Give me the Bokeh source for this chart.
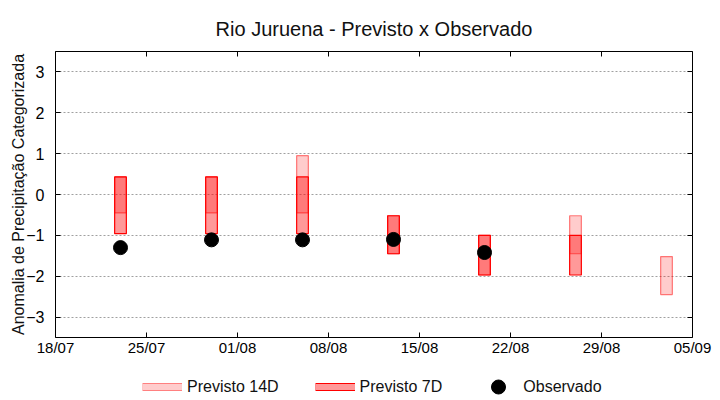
import math
from datetime import datetime
from bokeh.plotting import figure
from bokeh.layouts import column
from bokeh.models import (FixedTicker, DatetimeTickFormatter, LinearAxis, Range1d,
                          Legend, LegendItem, CustomJSTickFormatter)
from bokeh.embed import file_html
from bokeh.resources import INLINE

nan = float("nan")

# ---------------- data ----------------
weeks = ["2024-07-23", "2024-07-30", "2024-08-06", "2024-08-13",
         "2024-08-20", "2024-08-27", "2024-09-03"]
p14_low = [-0.45, -0.45, -0.45, -1.45, -1.97, -1.45, -2.45]
p14_high = [0.43, 0.43, 0.95, -0.52, -1.00, -0.52, -1.52]
p7_low = [-0.96, -0.96, -0.96, -1.45, -1.97, -1.97, nan]
p7_high = [0.43, 0.43, 0.43, -0.52, -1.00, -1.00, nan]
observed = [-1.30, -1.11, -1.11, -1.10, -1.42, nan, nan]
x_ticks = ["2024-07-18", "2024-07-25", "2024-08-01", "2024-08-08",
           "2024-08-15", "2024-08-22", "2024-08-29", "2024-09-05"]
y_ticks = [-3, -2, -1, 0, 1, 2, 3]
legend_labels = ["Previsto 14D", "Previsto 7D", "Observado"]

FONT = "Liberation Sans"
DAY = 86400000.0


def ms(s):
    return (datetime.strptime(s, "%Y-%m-%d") - datetime(1970, 1, 1)).total_seconds() * 1000.0


xw = [ms(w) for w in weeks]
xt = [ms(t) for t in x_ticks]

p = figure(width=720, height=358, x_axis_type="datetime",
           x_range=Range1d(xt[0], xt[-1]), y_range=Range1d(-3.5, 3.5),
           output_backend="svg", toolbar_location=None,
           min_border_left=55, min_border_right=28, min_border_top=51, min_border_bottom=19,
           title="Rio Juruena - Previsto x Observado")

p.title.text_font = FONT
p.title.text_font_size = "20px"
p.title.text_font_style = "normal"
p.title.align = "center"
p.title.vertical_align = "top"
p.title.text_color = "#111111"
p.title.standoff = 20

p.outline_line_color = "black"
p.outline_line_width = 1
p.xgrid.visible = False
p.ygrid.ticker = FixedTicker(ticks=y_ticks)
p.ygrid.grid_line_color = "#a0a0a0"
p.ygrid.grid_line_dash = "2 2"

# bars
w = 0.9 * DAY
r14 = p.vbar(x=xw, width=w, bottom=p14_low, top=p14_high,
             fill_color="red", fill_alpha=0.2, line_color="red", line_alpha=0.5, line_width=1.2)
r7 = p.vbar(x=xw, width=w, bottom=p7_low, top=p7_high,
            fill_color="red", fill_alpha=0.4, line_color="red", line_alpha=1.0, line_width=1.2)
ro = p.scatter(x=xw, y=observed, size=14, fill_color="black", line_color="black")

# axes
xa = p.xaxis[0]
xa.ticker = FixedTicker(ticks=xt)
xa.formatter = DatetimeTickFormatter(days="%d/%m", months="%d/%m", hours="%d/%m",
                                     years="%d/%m", minutes="%d/%m")
ya = p.yaxis[0]
ya.ticker = FixedTicker(ticks=y_ticks)
ya.axis_label = "Anomalia de Precipitação Categorizada"
ya.axis_label_text_font = FONT
ya.axis_label_text_font_size = "16px"
ya.axis_label_text_font_style = "normal"
ya.axis_label_text_color = "#111111"
ya.axis_label_standoff = -4

for ax in (xa, ya):
    ax.major_label_text_font = FONT
    ax.major_label_text_color = "black"
    ax.axis_line_color = None
    ax.major_tick_in = 5
    ax.major_tick_out = 0
    ax.minor_tick_line_color = None
    ax.major_tick_line_color = "black"
xa.major_label_text_font_size = "15px"
ya.major_label_text_font_size = "16px"
xa.major_label_standoff = 1
ya.major_label_standoff = 11

empty = CustomJSTickFormatter(code="return ''")
top = LinearAxis(ticker=FixedTicker(ticks=xt), formatter=empty, axis_line_color=None,
                 major_tick_in=5, major_tick_out=0, minor_tick_line_color=None,
                 major_label_text_font_size="1px", major_label_standoff=0)
right = LinearAxis(ticker=FixedTicker(ticks=y_ticks), formatter=empty, axis_line_color=None,
                   major_tick_in=5, major_tick_out=0, minor_tick_line_color=None,
                   major_label_text_font_size="1px", major_label_standoff=0)
p.add_layout(top, "above")
p.add_layout(right, "right")

# ---------------- legend strip below the chart ----------------
lg = figure(width=720, height=42, x_range=Range1d(0, 1), y_range=Range1d(0, 1),
            output_backend="svg", toolbar_location=None,
            x_axis_location=None, y_axis_location=None,
            min_border_left=0, min_border_right=0, min_border_top=0, min_border_bottom=0)
lg.outline_line_color = None
lg.grid.visible = False

l14a = lg.line(x=[nan], y=[nan], line_color="#ff8080", line_width=8)
l14b = lg.line(x=[nan], y=[nan], line_color="#ffcccc", line_width=6)
l7a = lg.line(x=[nan], y=[nan], line_color="red", line_width=8)
l7b = lg.line(x=[nan], y=[nan], line_color="#ff9999", line_width=6)
lo = lg.scatter(x=[nan], y=[nan], size=14, fill_color="black", line_color="black")

legend = Legend(items=[LegendItem(label=legend_labels[0], renderers=[l14a, l14b]),
                       LegendItem(label=legend_labels[1], renderers=[l7a, l7b]),
                       LegendItem(label=legend_labels[2], renderers=[lo])],
                orientation="horizontal", location=(87, -4),
                glyph_width=40, glyph_height=35, label_standoff=5, spacing=36,
                padding=0, margin=0, background_fill_alpha=0, border_line_alpha=0,
                label_text_font=FONT, label_text_font_size="16px", label_text_color="#111111")
lg.add_layout(legend)

layout = column(p, lg, spacing=0)
open("out.html", "w").write(file_html(layout, INLINE))
